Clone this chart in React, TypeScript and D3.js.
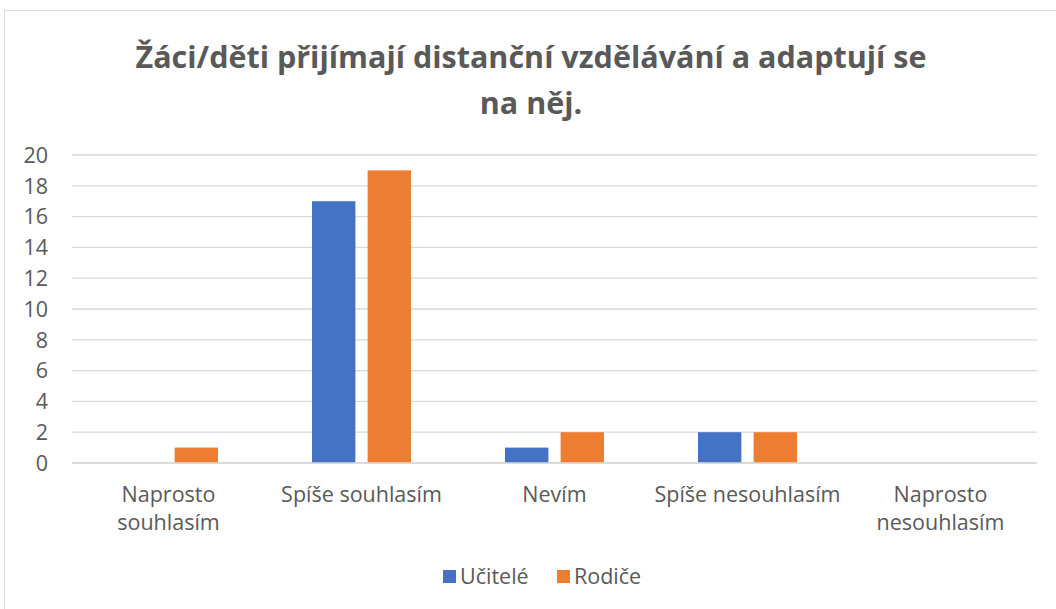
import React from 'react';
import * as d3 from 'd3';

const categories = [
  'Naprosto souhlasím',
  'Spíše souhlasím',
  'Nevím',
  'Spíše nesouhlasím',
  'Naprosto nesouhlasím',
];
// how Excel wrapped the axis labels
const categoryLines = [
  ['Naprosto', 'souhlasím'],
  ['Spíše souhlasím'],
  ['Nevím'],
  ['Spíše nesouhlasím'],
  ['Naprosto', 'nesouhlasím'],
];
const seriesNames = ['Učitelé', 'Rodiče'];
const ucitele = [0, 17, 1, 2, 0];
const rodice = [1, 19, 2, 2, 0];
const yTicks = [0, 2, 4, 6, 8, 10, 12, 14, 16, 18, 20];
const titleLines = ['Žáci/děti přijímají distanční vzdělávání a adaptují se', 'na něj.'];

const colors = ['#4472C4', '#ED7D31'];
const font = '"Open Sans", sans-serif';
const textColor = '#595959';

export default function App() {
  const width = 1056;
  const height = 609;
  const left = 72;
  const right = 1037;
  const top = 155;
  const bottom = 463;

  const x = d3.scaleBand<string>().domain(categories).range([left, right]).paddingInner(0).paddingOuter(0);
  const inner = d3
    .scaleBand<string>()
    .domain(seriesNames)
    .range([47, x.bandwidth() - 47])
    .paddingInner(0.22);
  const y = d3.scaleLinear().domain([0, 20]).range([bottom, top]);

  const series = [ucitele, rodice];
  const fs = 21.5;

  return (
    <svg
      width={width}
      height={height}
      style={{ position: 'absolute', left: 0, top: 0, background: '#fff' }}
      fontFamily={font}
    >
      <rect x={4.5} y={10.5} width={1100} height={700} fill="#fff" stroke="#d9d9d9" />

      {titleLines.map((t, i) => (
        <text
          key={i}
          x={531}
          y={68 + i * 46}
          textAnchor="middle"
          fontSize={30.5}
          fontWeight="bold"
          fill={textColor}
        >
          {t}
        </text>
      ))}

      {yTicks.map((t) => (
        <g key={t}>
          <line x1={left} x2={right} y1={y(t)} y2={y(t)} stroke="#d9d9d9" strokeWidth={1.3} />
          <text x={48} y={y(t)} dy="0.36em" textAnchor="end" fontSize={fs} fill={textColor}>
            {t}
          </text>
        </g>
      ))}

      {categories.map((c, ci) => (
        <g key={c} transform={`translate(${x(c)},0)`}>
          {series.map((vals, si) =>
            vals[ci] > 0 ? (
              <rect
                key={si}
                x={inner(seriesNames[si])}
                y={y(vals[ci])}
                width={inner.bandwidth()}
                height={y(0) - y(vals[ci])}
                fill={colors[si]}
              />
            ) : null
          )}
          {categoryLines[ci].map((l, li) => (
            <text
              key={li}
              x={x.bandwidth() / 2}
              y={502 + li * 28}
              textAnchor="middle"
              fontSize={fs}
              fill={textColor}
            >
              {l}
            </text>
          ))}
        </g>
      ))}

      <line x1={left} x2={right} y1={y(0)} y2={y(0)} stroke="#d9d9d9" strokeWidth={1.3} />

      {seriesNames.map((s, i) => {
        const lx = i === 0 ? 443 : 557;
        return (
          <g key={s}>
            <rect x={lx} y={570} width={13} height={13} fill={colors[i]} />
            <text x={lx + 17} y={584} fontSize={fs} fill={textColor}>
              {s}
            </text>
          </g>
        );
      })}
    </svg>
  );
}
